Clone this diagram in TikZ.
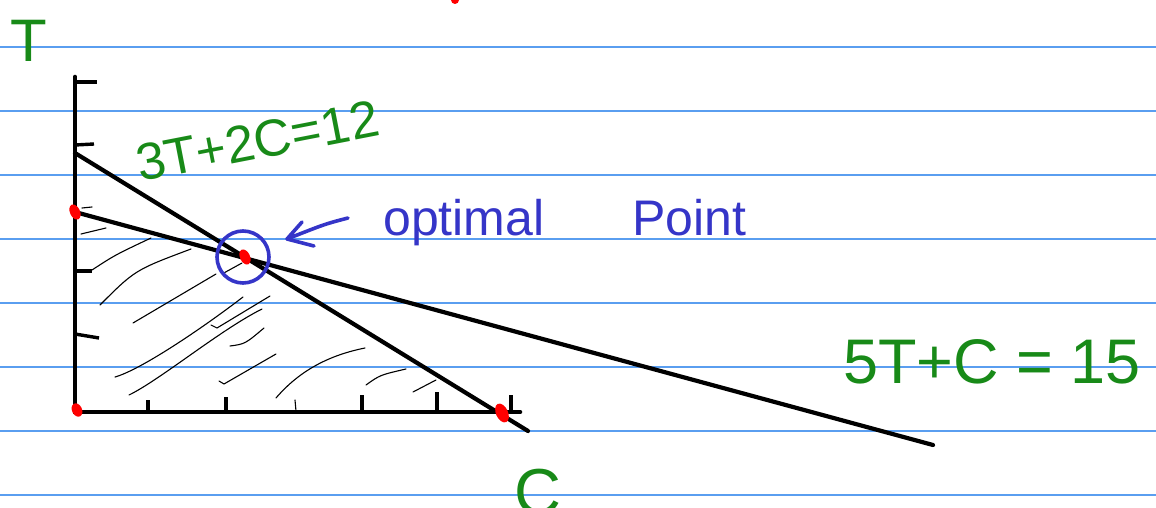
\documentclass[tikz,border=0pt]{standalone}
\usepackage{fontspec}
\setmainfont{Liberation Sans}
\usetikzlibrary{arrows.meta,positioning}
\definecolor{ruleblue}{HTML}{5A9EF0}
\definecolor{penblue}{HTML}{3535C8}
\definecolor{pengreen}{HTML}{188A18}
\definecolor{penred}{HTML}{FF0000}

\begin{document}
\begin{tikzpicture}[x=1pt,y=-1pt,
  rule/.style={draw=ruleblue,line width=1.6pt},
  axis/.style={draw=black,line width=4.6pt,line cap=round},
  tick/.style={draw=black,line width=3.4pt},
  limit/.style={draw=black,line width=4.2pt,line cap=round},
  hatch/.style={draw=black,line width=1.1pt,line cap=round},
  vertex/.style={fill=penred,draw=none},
  note/.style={text=penblue,inner sep=0pt,font=\fontsize{50}{50}\selectfont},
  eqn/.style={text=pengreen,inner sep=0pt},
  pointer/.style={draw=penblue,line width=3.6pt,line cap=round,line join=round}
]
\useasboundingbox (0,0) rectangle (1156,508);
\clip (0,0) rectangle (1156,508);
\fill[white] (0,0) rectangle (1156,508);

% ruled paper
\foreach \y in {47,111,175,239,303,367,431,495}
  \draw[rule] (0,\y) -- (1156,\y);

% corner points and ends of the lines
\coordinate (O) at (75,412);
\coordinate (Ttop) at (75,77);
\coordinate (Cend) at (520,412);
\coordinate (A) at (75,153);
\coordinate (A2) at (528,431);
\coordinate (B) at (75,212);
\coordinate (B2) at (933,445);
\coordinate (opt) at (245,257);
\coordinate (Cx) at (502,413);

% shading of the feasible region
\draw[hatch] (81,234) -- (106,228);
\draw[hatch] (92,270) .. controls (115,255) .. (151,238);
\draw[hatch] (100,305) .. controls (135,270) .. (191,249);
\draw[hatch] (133,323) -- (216,274);
\draw[hatch] (222,274) -- (242,263);
\draw[hatch] (115,377) .. controls (140,370) and (200,330) .. (243,297);
\draw[hatch] (129,395) .. controls (160,380) and (220,330) .. (262,309);
\draw[hatch] (211,325) -- (217,328) -- (270,296);
\draw[hatch] (230,346) .. controls (245,344) .. (264,328);
\draw[hatch] (219,381) -- (224,384) -- (276,354);
\draw[hatch] (276,398) .. controls (300,370) and (330,355) .. (365,348);
\draw[hatch] (366,385) .. controls (380,375) .. (406,369);
\draw[hatch] (413,392) -- (436,380);

% axes with ticks
\draw[axis] (Ttop) -- (O) -- (Cend);
\draw[tick] (75,82) -- (97,82);
\draw[tick] (75,145) -- (94,144);
\draw[hatch] (82,208) -- (92,207);
\draw[tick] (75,271) -- (92,271);
\draw[tick] (75,334) -- (99,338);
\foreach \x/\h in {148/400,226/397,362/395,437/392,511/395}
  \draw[tick] (\x,412) -- (\x,\h);
\draw[hatch] (295,400) -- (296,411);

% the two constraints
\draw[limit] (A) -- (A2);
\draw[limit] (B) -- (B2);

% vertices
\fill[vertex,rotate around={25:(B)}] (B) ellipse (5 and 8);
\fill[vertex,rotate around={25:(opt)}] (opt) ellipse (5 and 8);
\fill[vertex,rotate around={25:(77,410)}] (77,410) ellipse (5 and 7);
\fill[vertex,rotate around={25:(Cx)}] (Cx) ellipse (6 and 10);
\fill[vertex] (455,0) circle (4);

% optimal point marker
\draw[pointer] (opt) ++(-2,0) circle (26);
\node[note,anchor=base west] (optlbl) at (383,235) {optimal};
\node[note,anchor=base west] (ptlbl) at (632,235) {Point};
\coordinate (arrtail) at (348,218);
\draw[pointer] (arrtail) .. controls (325,224) .. (287,239) -- (302,222);
\draw[pointer] (287,239) -- (314,246);

% labels
\node[eqn,anchor=base west,rotate=11,font=\fontsize{52}{52}\selectfont] (eq1) at (140,182) {3T+2C=12};
\node[eqn,anchor=base west,font=\fontsize{63}{63}\selectfont] (eq2) at (843,383) {5T+C = 15};
\node[eqn,anchor=base west,font=\fontsize{60}{60}\selectfont] (tlbl) at (10,62) {T};
\node[eqn,anchor=base west,font=\fontsize{65}{65}\selectfont] (clbl) at (514,514) {C};
\end{tikzpicture}
\end{document}
